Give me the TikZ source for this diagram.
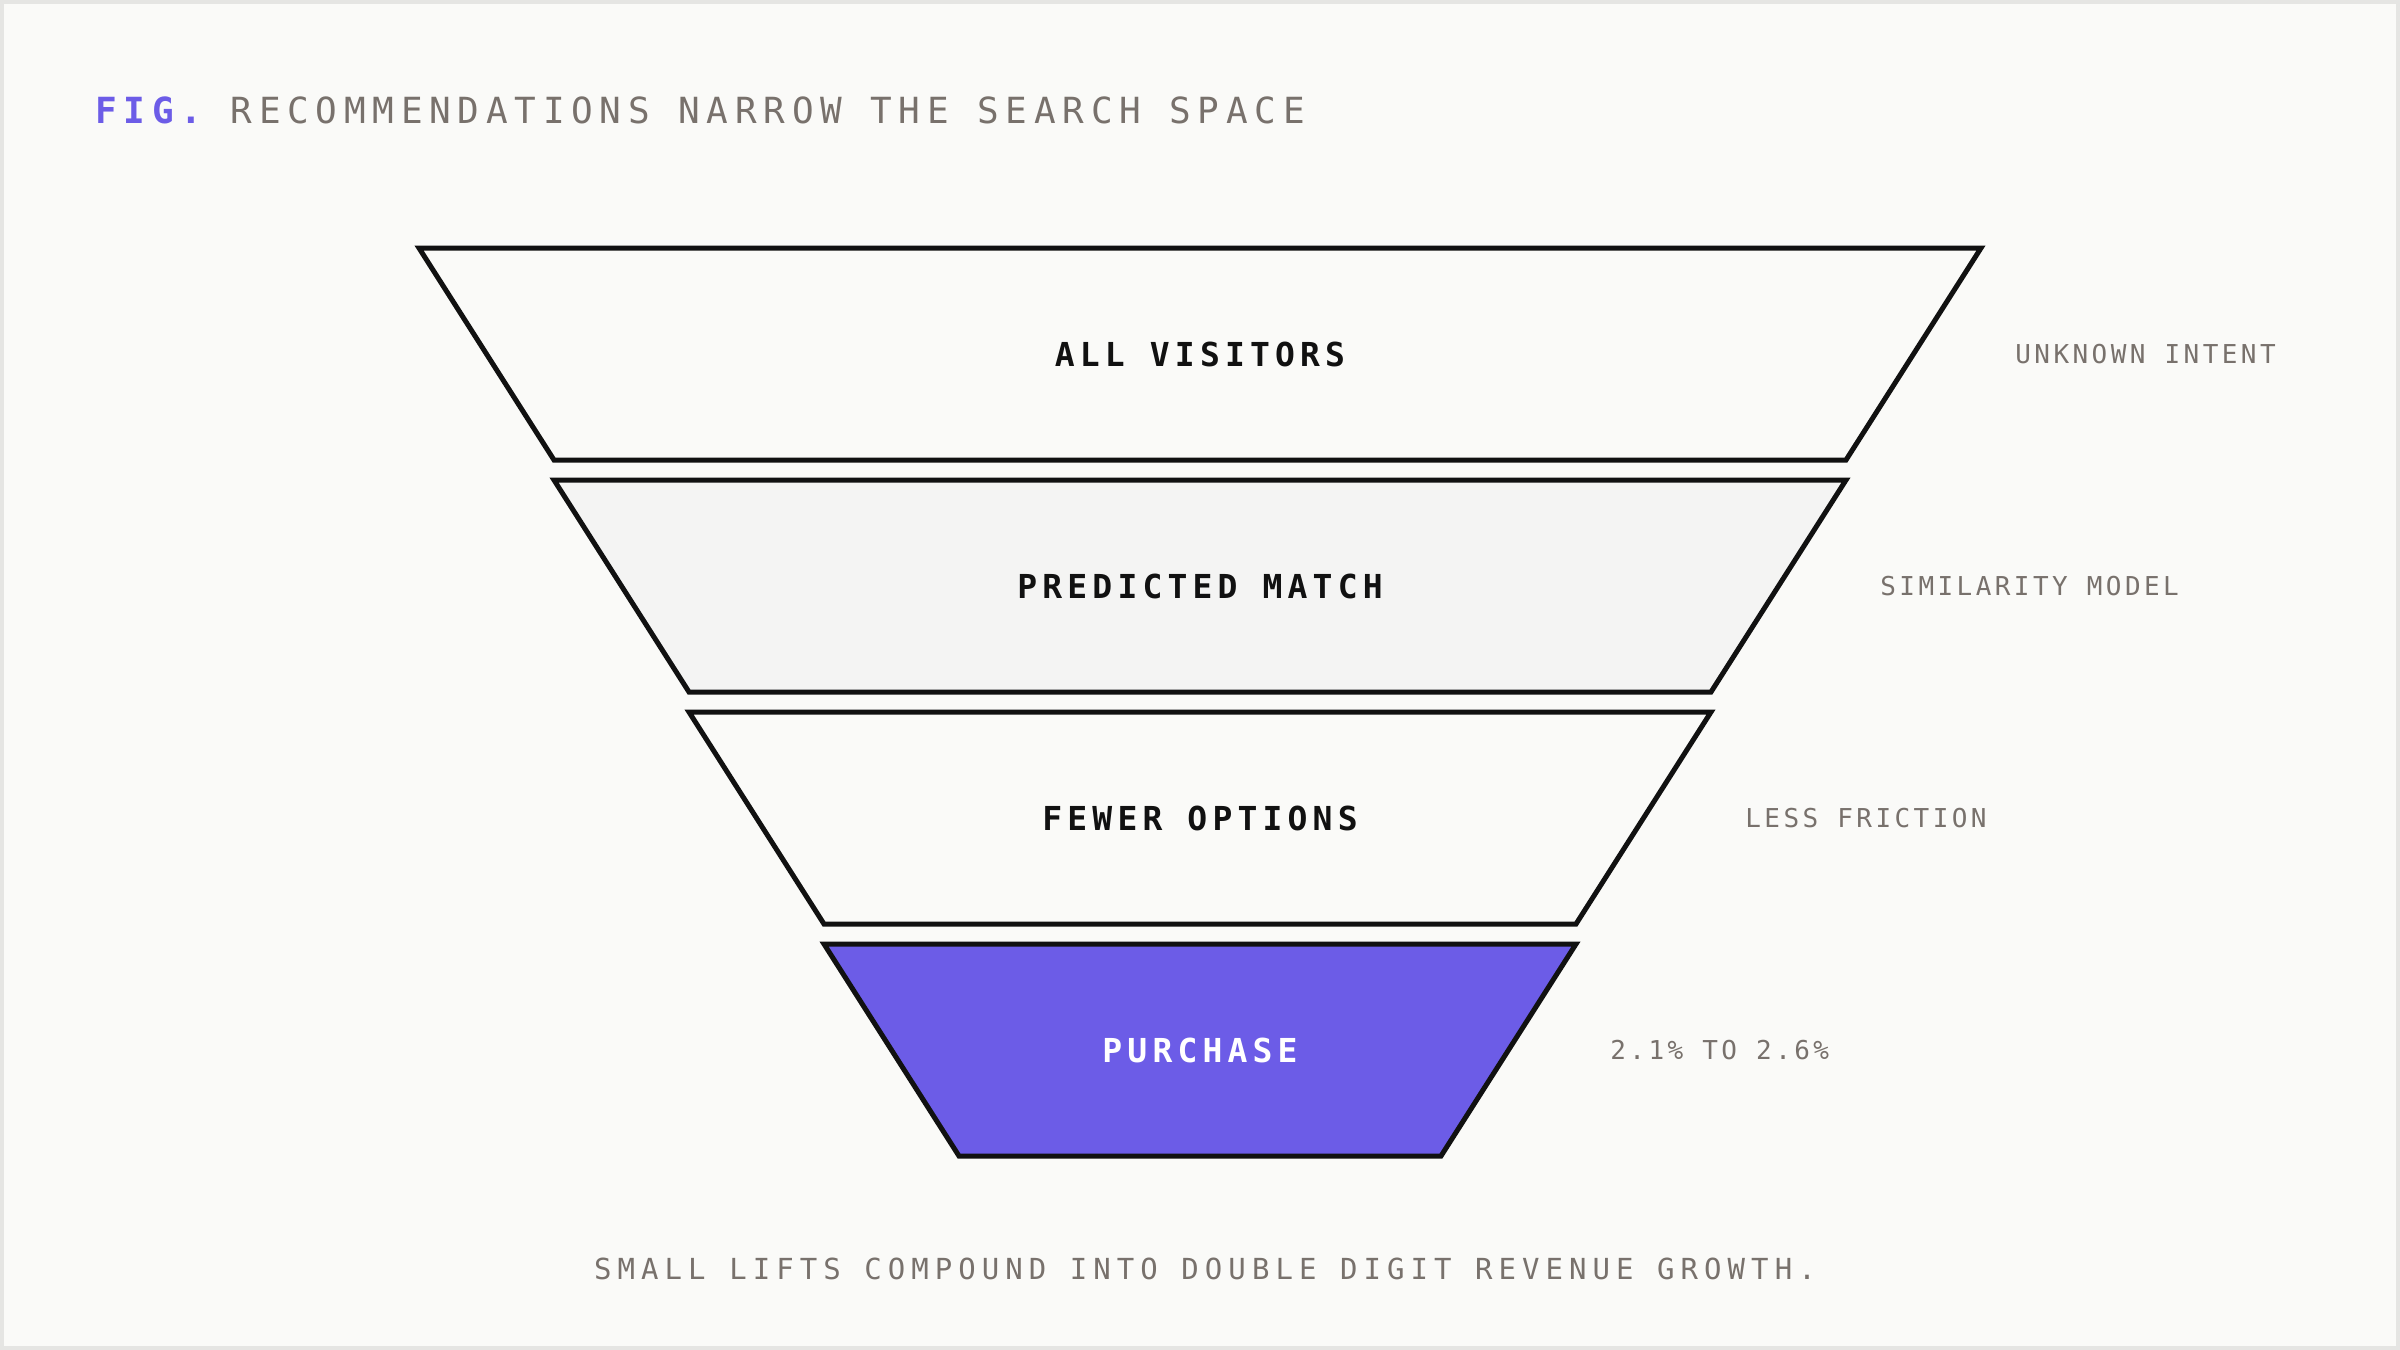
\documentclass[tikz,border=0pt]{standalone}
\usepackage{fontspec}
\newfontfamily\titlefont[LetterSpace=18.7]{DejaVu Sans Mono}
\newfontfamily\labelfont[LetterSpace=15.7]{DejaVu Sans Mono}
\newfontfamily\annofont[LetterSpace=13.2]{DejaVu Sans Mono}
\newfontfamily\capfont[LetterSpace=20.9]{DejaVu Sans Mono}
\definecolor{bg}{HTML}{FAFAF8}
\definecolor{framegray}{HTML}{E5E5E3}
\definecolor{ink}{HTML}{111111}
\definecolor{muted}{HTML}{78716C}
\definecolor{violet}{HTML}{6C5CE7}
\definecolor{softgray}{HTML}{F4F4F3}
\tikzset{
  layer/.style={draw=ink, line width=2.5pt, line join=miter},
  lbl/.style={inner sep=0pt, anchor=base, text=ink, font=\labelfont\bfseries\fontsize{16.5}{18}\selectfont},
  anno/.style={inner sep=0pt, anchor=base west, text=muted, font=\annofont\fontsize{13}{15}\selectfont},
  capt/.style={inner sep=0pt, anchor=base, text=muted, font=\capfont\fontsize{14.5}{16}\selectfont},
  ttl/.style={inner sep=0pt, anchor=base west, font=\titlefont\fontsize{18}{20}\selectfont}
}
\begin{document}
\begin{tikzpicture}[x=0.5pt,y=-0.5pt]
\fill[framegray] (0,0) rectangle (2400,1350);
\fill[bg] (4,4) rectangle (2396,1346);
\useasboundingbox (0,0) rectangle (2400,1350);
% title
\node[ttl] (title) at (95,123) {\textcolor{violet}{\bfseries FIG.} \textcolor{muted}{RECOMMENDATIONS NARROW THE SEARCH SPACE}};
% funnel layers
\draw[layer, fill=bg] (419,248) -- (1981,248) -- (1846,460) -- (554,460) -- cycle;
\draw[layer, fill=softgray] (554,480) -- (1846,480) -- (1711,692) -- (689,692) -- cycle;
\draw[layer, fill=bg] (689,712) -- (1711,712) -- (1576,924) -- (824,924) -- cycle;
\draw[layer, fill=violet] (824,944) -- (1576,944) -- (1441,1156) -- (959,1156) -- cycle;
% labels
\node[lbl] (l1) at (1200,366) {ALL VISITORS};
\node[lbl] (l2) at (1200,598) {PREDICTED MATCH};
\node[lbl] (l3) at (1200,830) {FEWER OPTIONS};
\node[lbl, text=white] (l4) at (1200,1062) {PURCHASE};
% annotations
\node[anno] (a1) at (2015,363.5) {UNKNOWN INTENT};
\node[anno] (a2) at (1880,595.5) {SIMILARITY MODEL};
\node[anno] (a3) at (1745,827.5) {LESS FRICTION};
\node[anno] (a4) at (1610,1059.5) {2.1\% TO 2.6\%};
% caption
\node[capt] (cap) at (1205,1279.5) {SMALL LIFTS COMPOUND INTO DOUBLE DIGIT REVENUE GROWTH.};
\end{tikzpicture}
\end{document}
